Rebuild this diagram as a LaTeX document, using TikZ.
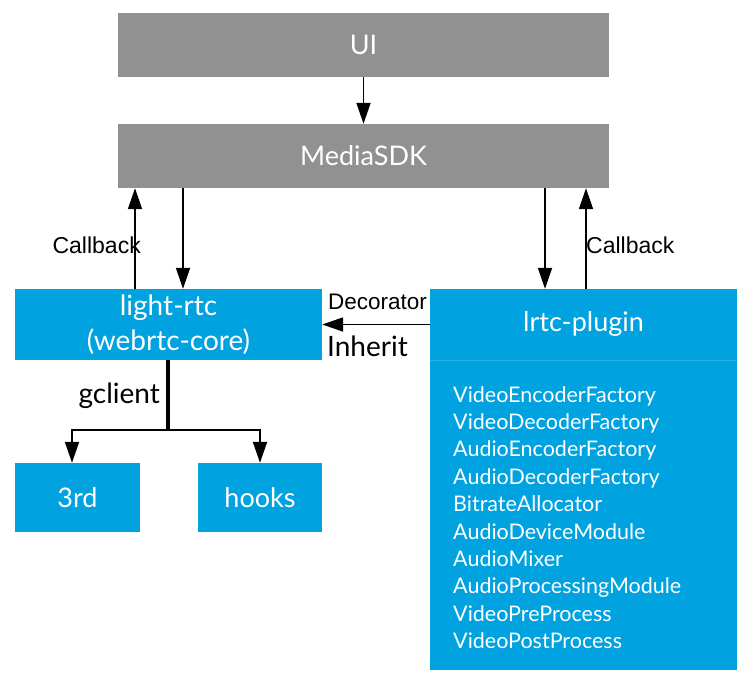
\documentclass[tikz,border=0pt]{standalone}
\usepackage{fontspec}
\setmainfont{Lato}
\newfontfamily\arialfont{Liberation Sans}
\usetikzlibrary{arrows.meta}

\definecolor{boxgray}{HTML}{919191}
\definecolor{boxblue}{HTML}{00A2E0}
\definecolor{lineblue}{HTML}{2AB0E6}

\begin{document}
\begin{tikzpicture}[%
      x=1pt, y=-1pt,
      graybox/.style={fill=boxgray, draw=none, text=white, font=\fontsize{27}{30}\selectfont, inner sep=0pt},
      bluebox/.style={fill=boxblue, draw=none, text=white, font=\fontsize{27}{30}\selectfont, inner sep=0pt, align=center},
      arr/.style={line width=1.8pt, -{Triangle[length=21pt,width=14pt]}},
      cblabel/.style={font=\arialfont\fontsize{23}{26}\selectfont, inner sep=0pt},
      listitem/.style={anchor=base west, text=white, font=\fontsize{21.5}{24}\selectfont, inner sep=0pt},
      ]
      \useasboundingbox (0,0) rectangle (754,683);

      \node [graybox, minimum width=491pt, minimum height=64pt] (ui) at (363.5,45) {UI};
      \node [graybox, minimum width=491pt, minimum height=64pt] (sdk) at (363.5,156) {MediaSDK};

      \node [bluebox, minimum width=307pt, minimum height=71pt, font=\fontsize{28}{30}\selectfont] (rtc) at (168.5,324.5) {light-rtc\\[5pt](webrtc-core)};
      \node [bluebox, minimum width=307pt, minimum height=310pt] (plugbody) at (583.5,515) {};
      \node [bluebox, minimum width=307pt, minimum height=71pt] (plughead) at (583.5,324.5) {lrtc-plugin};
      \draw [color=lineblue, line width=0.6pt] (plughead.south west) -- (plughead.south east);

      \node [bluebox, minimum width=125pt, minimum height=69pt] (third) at (77.5,497.5) {3rd};
      \node [bluebox, minimum width=124pt, minimum height=69pt] (hooks) at (260,497.5) {hooks};

      \foreach \name [count=\i] in {VideoEncoderFactory, VideoDecoderFactory,
            AudioEncoderFactory, AudioDecoderFactory, BitrateAllocator,
            AudioDeviceModule, AudioMixer, AudioProcessingModule,
            VideoPreProcess, VideoPostProcess}
            \node [listitem] (item\i) at (453,{402+27.4*(\i-1)}) {\name};

      % arrows
      \draw [arr] (ui.south) -- (sdk.north);
      \draw [arr] ([xshift=-33.5pt]rtc.north) -- ([xshift=-33.5pt]rtc.north |- sdk.south);
      \draw [arr] ([xshift=14.5pt]rtc.north |- sdk.south) -- ([xshift=14.5pt]rtc.north);
      \draw [arr] ([xshift=-38.5pt]plughead.north |- sdk.south) -- ([xshift=-38.5pt]plughead.north);
      \draw [arr] ([xshift=2.5pt]plughead.north) -- ([xshift=2.5pt]plughead.north |- sdk.south);
      \draw [arr] (plughead.west) -- (rtc.east);

      \coordinate (split) at (168,430);
      \draw [line width=3.2pt] (rtc.south -| split) -- ([yshift=-1pt]split);
      \draw [arr, line width=2pt] (split) -| ([xshift=-5.5pt]third.north);
      \draw [arr, line width=2pt] (split) -| (hooks.north);

      \node [cblabel, anchor=east] (cbleft) at (141,245) {Callback};
      \node [cblabel, anchor=west] (cbright) at (586,245) {Callback};
      \node [cblabel, anchor=west, font=\arialfont\fontsize{22.5}{26}\selectfont] (deco) at (328,302) {Decorator};
      \node [anchor=west, inner sep=0pt, font=\fontsize{28}{30}\selectfont] (inh) at (327,346) {Inherit};
      \node [anchor=east, inner sep=0pt, font=\fontsize{28}{30}\selectfont] (gcl) at (160,396) {gclient};
\end{tikzpicture}
\end{document}
